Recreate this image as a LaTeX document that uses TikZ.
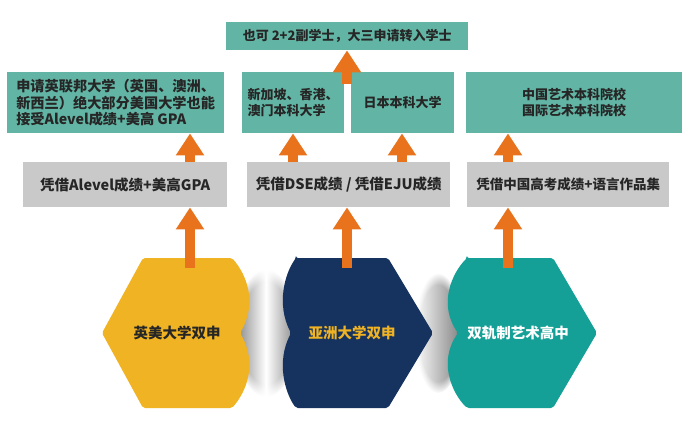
\documentclass[tikz,border=0pt]{standalone}
\usepackage{fontspec}
\setmainfont{Noto Sans CJK SC}
\usetikzlibrary{arrows.meta, fadings}
\definecolor{boxteal}{HTML}{62B5A4}
\definecolor{boxgray}{HTML}{C9C9C9}
\definecolor{arroworange}{HTML}{E8731C}
\definecolor{hexyellow}{HTML}{F0B323}
\definecolor{hexnavy}{HTML}{15335E}
\definecolor{hexteal}{HTML}{14A096}
\definecolor{textdark}{HTML}{262626}

\begin{document}
\begin{tikzpicture}[x=1pt, y=-1pt,
    destbox/.style={fill=boxteal, text=textdark, font=\bfseries\fontsize{13}{16.5}\selectfont, inner sep=0pt, anchor=north west, align=left},
    viabox/.style={fill=boxgray, text=textdark, font=\bfseries\fontsize{14.5}{16}\selectfont, inner sep=0pt, anchor=north west, minimum height=45pt},
    hexlabel/.style={font=\bfseries\fontsize{14.5}{17}\selectfont},
    risearrow/.style={draw=arroworange, line width=10pt, -{Triangle[width=27pt, length=22pt]}}]
    \useasboundingbox (0,0) rectangle (690,432);
    \shade [left color=black!50, right color=black!50, middle color=white, path fading=circle with fuzzy edge 20 percent] (266,333) ellipse (32pt and 64pt);
    \shade [left color=white, right color=black!50, path fading=circle with fuzzy edge 20 percent] (438,333) ellipse (24pt and 60pt);
    \fill [hexyellow, rounded corners=2pt] (143,258) -- (232,258) .. controls (246,274) and (258,302) .. (240,333) .. controls (258,364) and (246,392) .. (232,408) -- (143,408) -- (102,333) -- cycle;
    \fill [hexnavy, rounded corners=2pt] (296,258) -- (388,258) -- (433,333) -- (388,408) -- (296,408) .. controls (285,393) and (276,362) .. (291,333) .. controls (276,304) and (285,273) .. (296,258) -- cycle;
    \fill [hexteal, rounded corners=2pt] (467,258) -- (553,258) -- (597,333) -- (553,408) -- (467,408) .. controls (452,393) and (438,362) .. (458,333) .. controls (438,304) and (452,273) .. (467,258) -- cycle;
    \node [hexlabel, text=textdark] (hy) at (177,333) {英美大学双申};
    \node [hexlabel, text=hexyellow] (hn) at (352,333) {亚洲大学双申};
    \node [hexlabel, text=white] (ha) at (518,333) {双轨制艺术高中};
    \node [viabox, minimum width=204pt] (gy) at (23,162) {凭借Alevel成绩+美高GPA};
    \node [viabox, minimum width=203pt] (gm) at (247,162) {凭借DSE成绩 / 凭借EJU成绩};
    \node [viabox, font=\bfseries\fontsize{13.5}{16}\selectfont, minimum width=202pt] (ga) at (467,162) {凭借中国高考成绩+语言作品集};
    \node [destbox, font=\bfseries\fontsize{14.2}{16.5}\selectfont, minimum width=217pt, minimum height=61pt] (ty) at (7,72) {申请英联邦大学（英国、澳洲、\\新西兰）绝大部分美国大学也能\\接受Alevel成绩+美高 GPA};
    \node [destbox, minimum width=102pt, minimum height=61pt] (tsg) at (242,72) {新加坡、香港、\\澳门本科大学};
    \node [destbox, minimum width=103pt, minimum height=61pt] (tjp) at (351,72) {日本本科大学};
    \node [destbox, minimum width=216pt, minimum height=61pt] (tart) at (466,72) {中国艺术本科院校\\国际艺术本科院校};
    \node [destbox, minimum width=242pt, minimum height=28pt] (ttop) at (226,22) {也可 2+2副学士，大三申请转入学士};
    \coordinate (ca) at (190,0);
    \coordinate (cb) at (293,0);
    \coordinate (cc) at (347,0);
    \coordinate (cd) at (402,0);
    \coordinate (ce) at (508,0);
    \draw [risearrow] ([yshift=65pt]ca |- hy) -- (ca |- gy.south);
    \draw [risearrow] ([yshift=65pt]cc |- hn) -- (cc |- gm.south);
    \draw [risearrow] ([yshift=65pt]ce |- ha) -- (ce |- ga.south);
    \draw [risearrow] (ca |- gy.north) -- (ca |- ty.south);
    \draw [risearrow] (cb |- gm.north) -- (cb |- tsg.south);
    \draw [risearrow] (cd |- gm.north) -- (cd |- tjp.south);
    \draw [risearrow] (ce |- ga.north) -- (ce |- tart.south);
    \draw [risearrow] ([yshift=-12pt]cc |- tsg.north) -- (cc |- ttop.south);
\end{tikzpicture}
\end{document}
